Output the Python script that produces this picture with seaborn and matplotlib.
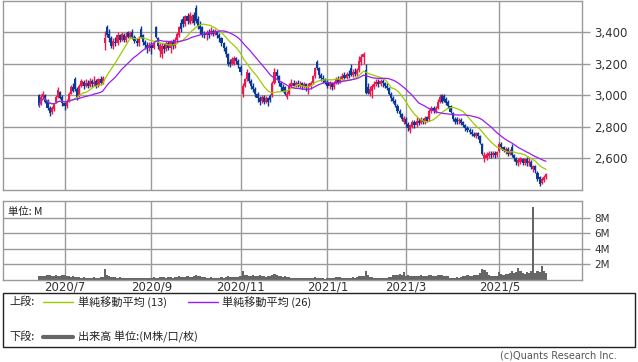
import numpy as np
import pandas as pd
import matplotlib
matplotlib.use("Agg")
import matplotlib.pyplot as plt
import seaborn as sns
from matplotlib.patches import Rectangle
from matplotlib.lines import Line2D

# ---------------- data ----------------
holidays = ["2020-07-23", "2020-07-24", "2020-08-10", "2020-09-21", "2020-09-22",
            "2020-11-03", "2020-11-23", "2020-12-31", "2021-01-01", "2021-01-11",
            "2021-02-11", "2021-02-23", "2021-04-29", "2021-05-03", "2021-05-04",
            "2021-05-05"]

opens = [3000, 2950, 2990, 3000, 2965, 2920, 2895, 2910, 2955, 2990, 3020, 2990,
         2950, 2935, 2965, 3010, 3050, 3100, 3040, 2995, 3060, 3085, 3060, 3080, 3060, 3090, 3070, 3090, 3060, 3100, 3080,
         3330, 3430, 3390, 3360, 3310, 3340, 3330, 3380, 3350, 3380, 3350, 3400, 3370, 3400, 3370, 3345, 3330, 3420, 3380,
         3340, 3320, 3300, 3320, 3300, 3430, 3360, 3280, 3260, 3310, 3290, 3330, 3300, 3340, 3310, 3350, 3380, 3460, 3480,
         3450, 3500, 3460, 3470, 3510, 3550, 3480, 3440, 3430, 3390, 3380, 3400, 3390, 3410, 3390, 3400, 3380, 3360, 3330,
         3300, 3260, 3210, 3200, 3200, 3235, 3215, 3180,
         3010, 3060, 3100, 3140, 3090, 3060, 3040, 3010, 2980, 2965, 2990, 2960, 2980, 2995, 3000, 3080, 3150, 3120, 3080,
         3050, 3050, 2990, 3010, 3060, 3080, 3060, 3080, 3060, 3075, 3060, 3070, 3050, 3060, 3080, 3120, 3210, 3170, 3130,
         3110, 3100,
         3085, 3060, 3075, 3050, 3080, 3100, 3085, 3105, 3130, 3110, 3135, 3170, 3130, 3150, 3135, 3160, 3210, 3240, 3160,
         3050, 3010, 3030, 3050, 3070, 3085, 3070, 3090, 3075, 3060, 3045, 3010, 2980, 2965, 2935, 2900, 2880, 2830,
         2850, 2815, 2780, 2800, 2830, 2810, 2840, 2825, 2845, 2830, 2860, 2850, 2900, 2920, 2900, 2920, 2960, 3000, 2995,
         2975, 2960, 2930, 2890, 2850, 2850, 2835, 2845, 2830, 2810, 2790, 2780, 2770, 2755, 2740, 2760, 2740, 2690, 2600,
         2600, 2615, 2630, 2620, 2635, 2620,
         2650, 2690, 2670, 2640, 2660, 2630, 2670, 2620, 2600, 2570, 2580, 2595, 2570, 2595, 2570, 2580, 2530, 2550, 2510,
         2480, 2445, 2465, 2480]

closes = [2935, 2990, 3010, 2960, 2920, 2890, 2920, 2945, 2990, 3035, 2985, 2950,
          2930, 2960, 3010, 3055, 3030, 3040, 2990, 3060, 3090, 3060, 3080, 3060, 3090, 3070, 3085, 3060, 3100, 3080, 3110,
          3360, 3380, 3360, 3310, 3345, 3330, 3380, 3350, 3390, 3350, 3375, 3370, 3395, 3370, 3345, 3330, 3360, 3370, 3340,
          3320, 3300, 3320, 3300, 3330, 3370, 3310, 3320, 3310, 3290, 3330, 3300, 3340, 3310, 3350, 3390, 3430, 3420, 3450,
          3500, 3470, 3510, 3500, 3460, 3470, 3440, 3420, 3390, 3380, 3400, 3380, 3410, 3390, 3405, 3380, 3360, 3330, 3300,
          3260, 3200, 3200, 3230, 3235, 3215, 3190, 3150,
          3060, 3100, 3150, 3090, 3060, 3040, 3010, 2980, 2960, 2990, 2960, 2985, 2955, 2970, 3080, 3150, 3120, 3080, 3050,
          3030, 3010, 3010, 3060, 3080, 3060, 3080, 3070, 3060, 3060, 3070, 3050, 3060, 3080, 3120, 3170, 3170, 3130, 3110,
          3100, 3085,
          3060, 3075, 3050, 3080, 3100, 3085, 3105, 3120, 3110, 3135, 3125, 3130, 3150, 3135, 3160, 3220, 3240, 3260, 3015,
          3015, 3040, 3060, 3070, 3085, 3070, 3090, 3075, 3060, 3045, 3010, 2980, 2965, 2940, 2900, 2880, 2850, 2855,
          2820, 2790, 2810, 2830, 2810, 2840, 2825, 2845, 2830, 2855, 2840, 2900, 2920, 2900, 2920, 2960, 2990, 2960, 2965,
          2950, 2930, 2895, 2850, 2830, 2830, 2845, 2825, 2810, 2790, 2780, 2770, 2755, 2745, 2760, 2740, 2700, 2630, 2620,
          2625, 2635, 2620, 2635, 2620, 2640,
          2690, 2670, 2650, 2660, 2630, 2650, 2620, 2600, 2575, 2590, 2600, 2570, 2595, 2570, 2585, 2545, 2550, 2525, 2470,
          2440, 2470, 2480, 2500]

highs = [3010, 3005, 3030, 3010, 2975, 2935, 2935, 2950, 3000, 3050, 3030, 3000,
         2965, 2975, 3020, 3065, 3080, 3115, 3050, 3070, 3100, 3095, 3100, 3095, 3110, 3100, 3120, 3100, 3110, 3125, 3120,
         3410, 3445, 3420, 3375, 3360, 3370, 3400, 3390, 3400, 3395, 3400, 3410, 3405, 3420, 3380, 3360, 3375, 3440, 3390,
         3350, 3340, 3340, 3335, 3345, 3440, 3370, 3330, 3330, 3330, 3345, 3345, 3350, 3355, 3370, 3400, 3440, 3480, 3500,
         3510, 3520, 3525, 3515, 3530, 3570, 3500, 3470, 3440, 3410, 3415, 3420, 3430, 3420, 3420, 3410, 3395, 3370, 3340,
         3310, 3270, 3230, 3245, 3250, 3245, 3230, 3190,
         3080, 3110, 3165, 3150, 3100, 3080, 3050, 3020, 2995, 3000, 3000, 2995, 2990, 3005, 3090, 3170, 3165, 3130, 3090,
         3070, 3060, 3025, 3075, 3100, 3095, 3090, 3095, 3090, 3085, 3085, 3080, 3075, 3090, 3130, 3180, 3225, 3180, 3140,
         3130, 3110,
         3100, 3090, 3085, 3090, 3115, 3120, 3120, 3140, 3150, 3150, 3160, 3195, 3165, 3170, 3170, 3250, 3260, 3275, 3200,
         3080, 3060, 3070, 3090, 3100, 3100, 3105, 3100, 3085, 3075, 3055, 3020, 2995, 2975, 2945, 2915, 2890, 2870,
         2860, 2830, 2820, 2845, 2845, 2860, 2855, 2860, 2855, 2870, 2870, 2915, 2935, 2935, 2930, 2975, 3005, 3010, 3005,
         2990, 2970, 2940, 2895, 2860, 2860, 2855, 2855, 2840, 2820, 2805, 2795, 2785, 2770, 2770, 2770, 2750, 2700, 2640,
         2640, 2645, 2645, 2645, 2645, 2650,
         2705, 2705, 2680, 2670, 2670, 2660, 2690, 2630, 2610, 2600, 2610, 2605, 2605, 2610, 2600, 2590, 2560, 2560, 2520,
         2490, 2480, 2495, 2510]

lows = [2925, 2940, 2975, 2950, 2905, 2870, 2880, 2900, 2950, 2980, 2975, 2935,
        2905, 2920, 2960, 3005, 3020, 3030, 2970, 2990, 3050, 3040, 3050, 3045, 3055, 3055, 3060, 3045, 3055, 3065, 3070,
        3285, 3370, 3340, 3300, 3295, 3315, 3320, 3335, 3345, 3340, 3340, 3360, 3360, 3355, 3330, 3310, 3310, 3360, 3320,
        3290, 3270, 3280, 3260, 3290, 3360, 3290, 3240, 3235, 3270, 3280, 3285, 3265, 3290, 3300, 3340, 3370, 3400, 3430,
        3440, 3450, 3450, 3455, 3445, 3455, 3420, 3390, 3370, 3360, 3350, 3360, 3380, 3375, 3380, 3360, 3340, 3310, 3280,
        3240, 3185, 3180, 3190, 3190, 3200, 3170, 3130,
        2990, 3050, 3090, 3075, 3040, 3020, 2990, 2960, 2940, 2950, 2945, 2950, 2935, 2955, 2990, 3070, 3100, 3060, 3030,
        3020, 3000, 2975, 3000, 3050, 3050, 3050, 3055, 3045, 3040, 3045, 3030, 3010, 3040, 3070, 3110, 3160, 3110, 3090,
        3080, 3070,
        3045, 3040, 3035, 3040, 3070, 3070, 3075, 3095, 3100, 3100, 3110, 3120, 3115, 3120, 3120, 3150, 3190, 3200, 3005,
        3005, 2995, 2985, 3040, 3060, 3055, 3060, 3055, 3045, 3035, 3000, 2965, 2950, 2925, 2885, 2865, 2835, 2815,
        2800, 2775, 2760, 2790, 2795, 2800, 2810, 2815, 2815, 2820, 2830, 2840, 2890, 2890, 2890, 2910, 2950, 2950, 2955,
        2940, 2920, 2885, 2835, 2820, 2815, 2820, 2810, 2800, 2775, 2765, 2755, 2745, 2735, 2730, 2725, 2690, 2620, 2575,
        2590, 2600, 2605, 2610, 2605, 2610,
        2640, 2660, 2640, 2625, 2615, 2620, 2610, 2585, 2560, 2555, 2565, 2560, 2560, 2555, 2550, 2535, 2515, 2510, 2455,
        2425, 2435, 2450, 2470]

volume_m = [0.45, 0.55, 0.5, 0.55, 0.6, 0.6, 0.55, 0.5, 0.6, 0.55, 0.5, 0.6,
            0.65, 0.5, 0.45, 0.4, 0.45, 0.4, 0.35, 0.4, 0.3, 0.35, 0.3, 0.3, 0.25, 0.3, 0.35, 0.3, 0.25, 0.35, 0.4,
            1.45, 0.7, 0.55, 0.4, 0.35, 0.35, 0.3, 0.35, 0.3, 0.25, 0.3, 0.25, 0.25, 0.3, 0.3, 0.25, 0.2, 0.25, 0.2,
            0.25, 0.3, 0.3, 0.3, 0.35, 0.3, 0.3, 0.35, 0.4, 0.35, 0.3, 0.35, 0.4, 0.3, 0.35, 0.4, 0.45, 0.4, 0.35,
            0.4, 0.45, 0.4, 0.35, 0.45, 0.6, 0.5, 0.45, 0.4, 0.35, 0.3, 0.3, 0.35, 0.3, 0.3, 0.25, 0.3, 0.35, 0.3,
            0.4, 0.45, 0.4, 0.35, 0.4, 0.35, 0.4, 0.5,
            1.2, 0.7, 0.6, 0.55, 0.5, 0.6, 0.55, 0.5, 0.6, 0.45, 0.5, 0.4, 0.45, 0.5, 0.65, 0.8, 0.6, 0.55, 0.45,
            0.4, 0.45, 0.35, 0.4, 0.3, 0.3, 0.25, 0.3, 0.25, 0.25, 0.3, 0.25, 0.3, 0.25, 0.3, 0.35, 0.3, 0.25, 0.2,
            0.2, 0.15,
            0.25, 0.3, 0.25, 0.3, 0.35, 0.4, 0.35, 0.3, 0.3, 0.25, 0.3, 0.3, 0.35, 0.3, 0.35, 0.45, 0.5, 0.55, 1.2,
            0.6, 0.4, 0.35, 0.3, 0.3, 0.25, 0.3, 0.25, 0.25, 0.3, 0.35, 0.4, 0.6, 0.7, 0.65, 0.8, 0.6, 1.0,
            0.55, 0.6, 0.5, 0.55, 0.5, 0.45, 0.55, 0.6, 0.5, 0.55, 0.45, 0.6, 0.65, 0.55, 0.5, 0.6, 0.65, 0.6, 0.55,
            0.5, 0.45, 0.3, 0.25, 0.3, 0.35, 0.3, 0.4, 0.5, 0.55, 0.6, 0.5, 0.55, 0.6, 0.65, 0.7, 0.9, 1.35, 1.3,
            1.0, 0.6, 0.55, 0.5, 0.5, 0.55,
            1.0, 0.8, 0.7, 0.75, 0.8, 0.9, 1.1, 0.85, 1.0, 1.5, 1.2, 0.9, 0.8, 1.0, 0.85, 1.1, 9.4, 0.9, 1.2,
            1.0, 1.75, 1.2, 0.9]

price_ticks = [2600, 2800, 3000, 3200, 3400]
volume_ticks = [2, 4, 6, 8]
volume_tick_labels = ["2M", "4M", "6M", "8M"]
month_labels = ["2020/7", "2020/9", "2020/11", "2021/1", "2021/3", "2021/5"]
month_starts = ["2020-07", "2020-09", "2020-11", "2021-01", "2021-03", "2021-05"]

# ---------------- frame ----------------
n = len(closes)
dates = pd.bdate_range("2020-06-15", "2021-06-30")
dates = dates[~dates.isin(pd.to_datetime(holidays))][:n]
idx = np.arange(n)
df = pd.DataFrame({"i": idx, "date": dates, "open": opens, "high": highs,
                   "low": lows, "close": closes, "vol": volume_m})
df["ma13"] = df["close"].rolling(13, min_periods=1).mean()
df["ma26"] = df["close"].rolling(26, min_periods=1).mean()
month_pos = [int(df.index[df["date"].dt.strftime("%Y-%m") == m][0]) for m in month_starts]

sns.set_style("white")
plt.rcParams["font.family"] = ["DejaVu Sans", "Noto Sans CJK JP"]
JP = ["Noto Sans CJK JP", "DejaVu Sans"]

W, H = 638, 362
fig = plt.figure(figsize=(W / 100, H / 100), dpi=100)
fig.patch.set_facecolor("white")

def fx(px):
    return px / W

def fy(py):
    return 1 - py / H

ax1 = fig.add_axes([fx(3), fy(190), fx(579), (190 - 0.5) / H])
ax2 = fig.add_axes([fx(3), fy(280), fx(579), 79 / H])

GRID = "#9a9a9a"
RED = "#f0174d"
BLUE = "#0b3a96"
XL = (-17, 256)

for ax in (ax1, ax2):
    ax.set_facecolor("white")
    ax.set_xlim(*XL)
    for s in ax.spines.values():
        s.set_color(GRID)
        s.set_linewidth(1.0)
    for p in month_pos:
        ax.axvline(p, color=GRID, lw=1.0, zorder=0)

# price panel
ax1.set_ylim(2400, 3600)
for t in price_ticks:
    ax1.axhline(t, color=GRID, lw=1.0, zorder=0)
up = df["close"] >= df["open"]
cols = np.where(up, RED, BLUE)
ax1.vlines(df["i"], df["low"], df["high"], colors=cols, lw=1.0, zorder=2)
body_lo = np.minimum(df["open"], df["close"])
body_h = np.maximum(np.abs(df["close"] - df["open"]), 5)
ax1.bar(df["i"], body_h, bottom=body_lo, width=1.0, color=cols, linewidth=0, zorder=3)
sns.lineplot(data=df, x="i", y="ma13", ax=ax1, color="#9ccc00", lw=0.9, zorder=4)
sns.lineplot(data=df, x="i", y="ma26", ax=ax1, color="#9b1cf0", lw=0.9, zorder=4)
ax1.set_xlim(*XL)
ax1.set_xlabel("")
ax1.set_ylabel("")
ax1.set_xticks([])
ax1.yaxis.tick_right()
ax1.set_yticks(price_ticks)
ax1.set_yticklabels([f"{t:,}" for t in price_ticks])
ax1.tick_params(axis="y", which="both", right=True, length=6, width=1, color=GRID,
                labelsize=8.5, labelcolor="#333333", pad=3)

# volume panel
ax2.set_ylim(0, 10.15)
for t in volume_ticks:
    ax2.axhline(t, color=GRID, lw=1.0, zorder=0)
ax2.bar(df["i"], df["vol"], width=1.0, color="#666666", linewidth=0, zorder=2)
ax2.yaxis.tick_right()
ax2.set_yticks(volume_ticks)
ax2.set_yticklabels(volume_tick_labels)
ax2.tick_params(axis="y", right=True, length=6, width=1, color=GRID,
                labelsize=7.5, labelcolor="#333333", pad=3)
ax2.set_xticks(month_pos)
ax2.set_xticklabels(month_labels)
ax2.tick_params(axis="x", length=0, labelsize=8.5, labelcolor="#333333", pad=0.5)
ax2.text(0.008, 0.93, "単位: M", transform=ax2.transAxes, ha="left", va="top",
         fontsize=7.5, family=JP, color="#222222")

# legend box
fig.add_artist(Rectangle((fx(3), fy(347)), fx(632), (347 - 293) / H,
                         transform=fig.transFigure, fill=False, ec="#222222", lw=1.0))
ly1, ly2 = fy(302), fy(337)
FS = 8
fig.text(fx(9), ly1, "上段:", fontsize=FS, family=JP, va="center", ha="left", color="#222222")
fig.add_artist(Line2D([fx(43), fx(73)], [ly1, ly1], color="#9ccc00", lw=1.0, transform=fig.transFigure))
fig.text(fx(78), ly1, "単純移動平均 (13)", fontsize=FS, family=JP, va="center", ha="left", color="#222222")
fig.add_artist(Line2D([fx(188), fx(218)], [ly1, ly1], color="#9b1cf0", lw=1.0, transform=fig.transFigure))
fig.text(fx(222), ly1, "単純移動平均 (26)", fontsize=FS, family=JP, va="center", ha="left", color="#222222")
fig.text(fx(9), ly2, "下段:", fontsize=FS, family=JP, va="center", ha="left", color="#222222")
fig.add_artist(Line2D([fx(43), fx(73)], [ly2, ly2], color="#666666", lw=3.0, transform=fig.transFigure))
fig.text(fx(78), ly2, "出来高 単位:(M株/口/枚)", fontsize=FS, family=JP, va="center", ha="left", color="#222222")
fig.text(fx(617), fy(356), "(c)Quants Research Inc.", fontsize=7, va="center", ha="right", color="#555555")

fig.savefig("out.png", dpi=100, facecolor="white")
